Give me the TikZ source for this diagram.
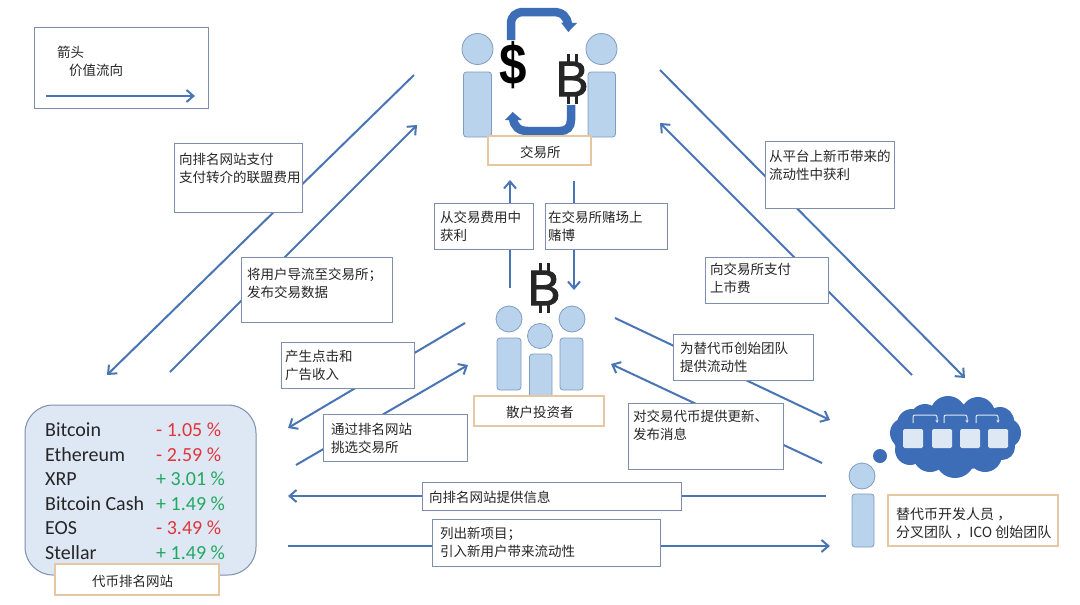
\documentclass[tikz,border=0pt]{standalone}
\usepackage{fontspec}
\setmainfont{Noto Sans CJK SC}
\newfontfamily\latinf{Carlito}
\newfontfamily\symf{Liberation Sans}
\newfontfamily\symb[FakeBold=1.6]{Liberation Sans}
\usetikzlibrary{arrows.meta}
\definecolor{flow}{HTML}{4A75B5}
\definecolor{deep}{HTML}{3E6DB8}
\definecolor{pfill}{HTML}{B9D3EC}
\definecolor{pline}{HTML}{7F9CC2}
\definecolor{bline}{HTML}{7C90AE}
\definecolor{oline}{HTML}{E6C7A3}
\definecolor{rankfill}{HTML}{DEE8F5}
\definecolor{txt}{HTML}{262626}
\definecolor{upc}{HTML}{22A860}
\definecolor{downc}{HTML}{E0353B}
\tikzset{
  flowline/.style={draw=flow,line width=2pt,-{Straight Barb[length=7pt,width=12pt,line width=2pt]}},
  head/.style={circle,draw=pline,fill=pfill,line width=.8pt,inner sep=0pt},
  body/.style={draw=pline,fill=pfill,line width=.8pt,rounded corners=3pt},
  txtn/.style={inner sep=0pt,anchor=north west,align=left,text=txt,font=\fontsize{13.5}{18}\selectfont},
  boxn/.style={draw=bline,fill=white,line width=.8pt},
  obox/.style={draw=oline,fill=white,line width=1.1pt},
  coin/.style={inner sep=0pt,font=\latinf\fontsize{20}{22}\selectfont,text=txt,anchor=west},
  rate/.style={inner sep=0pt,font=\latinf\fontsize{20}{22}\selectfont,anchor=west},
  sq/.style={fill=rankfill,rounded corners=1.5pt},
  turn/.style={draw=deep,line width=8.5pt},
  tiptri/.style={fill=deep},
  linkw/.style={draw=rankfill,line width=1pt,rounded corners=2pt,-{Stealth[length=3pt,width=3pt]}},
  tick/.style={fill=txt}
}
% name x1 y1 x2 y2 textx firsty text
\newcommand{\lab}[9][boxn]{%
  \path[#1] (#3,#4) rectangle (#5,#6);
  \node[txtn] (#2) at (#7,#8-5.5) {#9};}
% bitcoin sign: a B with its ticks, centred on x,y
\newcommand{\coinsign}[3]{%
  \node[inner sep=0pt,font=\fontsize{50}{50}\selectfont\symb,text=txt] (#1) at (#2,#3) {B};
  \foreach \dx in {-5,3}{
    \fill[tick] (#2+\dx,#3-25) rectangle +(3.4,9);
    \fill[tick] (#2+\dx,#3+16) rectangle +(3.4,9);}}
\begin{document}
\begin{tikzpicture}[x=1pt,y=-1pt]
\useasboundingbox (0,0) rectangle (1080,605);
\fill[white] (0,0) rectangle (1080,605);

% legend
\path[draw=bline,line width=.8pt] (34,27) rectangle (208,108);
\node[txtn] (legA) at (57,46) {箭头};
\node[txtn] (legB) at (69,64) {价值流向};
\coordinate (legS) at (46,96); \coordinate (legE) at (195,96);
\draw[flowline] (legS) -- (legE);

% exchange people
\node[head,minimum size=31pt] (exL) at (477.5,49) {};
\path[body] (463.5,72) rectangle (491.5,137);
\node[head,minimum size=31pt] (exR) at (601.5,49) {};
\path[body] (588,72) rectangle (615.5,137);

% turning arrows
\draw[turn] (511,40) -- (511,24) .. controls (511,16) and (516,12) .. (524,12) -- (553,12) .. controls (562,12) and (567,16) .. (568,25);
\path[tiptri] (561,22.5) -- (577,23) -- (568.3,32) -- cycle;
\draw[turn] (571,105) -- (571,120) .. controls (571,127) and (567,131) .. (560,131) -- (528,131) .. controls (519,131) and (514,127) .. (513,118);
\path[tiptri] (505,120) -- (522,120) -- (512.7,112) -- cycle;
\node[inner sep=0pt,font=\fontsize{58}{58}\selectfont\bfseries\symf,xscale=.85] (dollar) at (513,65) {\$};
\coinsign{bitA}{572}{79}
\coinsign{bitB}{544}{288}

% investors
\node[head,minimum size=26pt] (inA) at (509,319) {};
\path[body] (497,338) rectangle (521,390);
\node[head,minimum size=26pt] (inC) at (572,319) {};
\path[body] (560,338) rectangle (583,390);
\node[head,minimum size=25pt] (inB) at (540,336) {};
\path[body] (529.5,354) rectangle (552,400);

% arrows
\coordinate (a1s) at (414,75);  \coordinate (a1e) at (107,375);
\coordinate (a2s) at (170,372); \coordinate (a2e) at (417,125);
\coordinate (a3s) at (660,70);  \coordinate (a3e) at (965,378);
\coordinate (a4s) at (912,375); \coordinate (a4e) at (660,123);
\coordinate (a5s) at (510,288); \coordinate (a5e) at (510,180);
\coordinate (a6s) at (574,181); \coordinate (a6e) at (574,290);
\coordinate (a7s) at (465,323); \coordinate (a7e) at (288,428);
\coordinate (a8s) at (296,465); \coordinate (a8e) at (468,365);
\coordinate (a9s) at (615,318); \coordinate (a9e) at (830,420);
\coordinate (a10s) at (822,463); \coordinate (a10e) at (611,364);
\coordinate (a11s) at (826,496); \coordinate (a11e) at (288,496);
\coordinate (a12s) at (288,546); \coordinate (a12e) at (830,546);
\foreach \k in {1,...,12} \draw[flowline] (a\k s) -- (a\k e);

% labels
\lab{lA}{174}{143}{302}{212}{179}{158}{向排名网站支付\\支付转介的联盟费用}
\lab{lB}{241}{257}{392}{322}{247}{273}{将用户导流至交易所；\\发布交易数据}
\lab{lC}{281}{342}{414}{388}{285}{355}{产生点击和\\广告收入}
\lab{lD}{323}{414}{467}{461}{331}{428}{通过排名网站\\挑选交易所}
\lab{lE}{434}{203}{533}{249}{440}{216}{从交易费用中\\获利}
\lab{lF}{545}{203}{667}{249}{548}{216}{在交易所赌场上\\赌博}
\lab{lG}{765}{141}{894}{208}{769}{155}{从平台上新币带来的\\流动性中获利}
\lab{lH}{705}{257}{828}{303}{710}{268}{向交易所支付\\上市费}
\lab{lI}{673}{334}{813}{380}{680}{347}{为替代币创始团队\\提供流动性}
\lab{lJ}{628}{403}{783}{469}{633}{415}{对交易代币提供更新、\\发布消息}
\lab{lK}{422}{482}{681}{510}{429}{496}{向排名网站提供信息}
\lab{lL}{432}{519}{660}{566}{440}{532}{列出新项目；\\引入新用户带来流动性}

% exchange label, investor label
\lab[obox]{lM}{488}{136}{591}{165}{520}{151}{交易所}
\lab[obox]{lN}{474}{396}{604}{426}{506}{411}{散户投资者}

% ranking panel
\path[draw=bline,fill=rankfill,line width=1pt,rounded corners=28pt] (25,405) rectangle (256,575);
\node[coin] (c1) at (45,430) {Bitcoin};
\node[coin] (c2) at (45,455) {Ethereum};
\node[coin] (c3) at (45,479) {XRP};
\node[coin] (c4) at (45,504) {Bitcoin Cash};
\node[coin] (c5) at (45,528) {EOS};
\node[coin] (c6) at (45,553) {Stellar};
\node[rate,text=downc] (r1) at (156,430) {- 1.05 \%};
\node[rate,text=downc] (r2) at (156,455) {- 2.59 \%};
\node[rate,text=upc] (r3) at (156,479) {+ 3.01 \%};
\node[rate,text=upc] (r4) at (156,504) {+ 1.49 \%};
\node[rate,text=downc] (r5) at (156,528) {- 3.49 \%};
\node[rate,text=upc] (r6) at (156,553) {+ 1.49 \%};
\lab[obox]{lO}{55}{564}{219}{595}{92}{580}{代币排名网站}

% developer
\node[head,minimum size=26pt] (dev) at (862,476) {};
\path[body] (852,494) rectangle (874,547);
\fill[deep] (880,456) circle (7);
\fill[deep] (955,437) ellipse (62 and 33);
\foreach \cx/\cy/\r in {905/433/15,912/424/15,925/419/15,948/414/18,978/414/17,1000/421/14,1006/433/15,1002/447/13,985/455/17,955/458/20,930/455/17,910/450/15}
  \fill[deep] (\cx,\cy) circle (\r);
\foreach \sx in {903,932,960,988} \path[sq] (\sx,429) rectangle +(20,19);
\coordinate (k1s) at (913,423); \coordinate (k1e) at (937,423);
\coordinate (k2s) at (944,423); \coordinate (k2e) at (967,423);
\coordinate (k3s) at (976,423); \coordinate (k3e) at (998,423);
\foreach \k in {1,2,3} \draw[linkw] (k\k s) |- ++(12,-8) -| (k\k e);
\lab[obox]{lP}{888}{495}{1058}{546}{896}{513}{\fontsize{14}{18}\selectfont 替代币开发人员 ，\\\fontsize{14}{18}\selectfont 分叉团队 ，ICO 创始团队}
\end{tikzpicture}
\end{document}
